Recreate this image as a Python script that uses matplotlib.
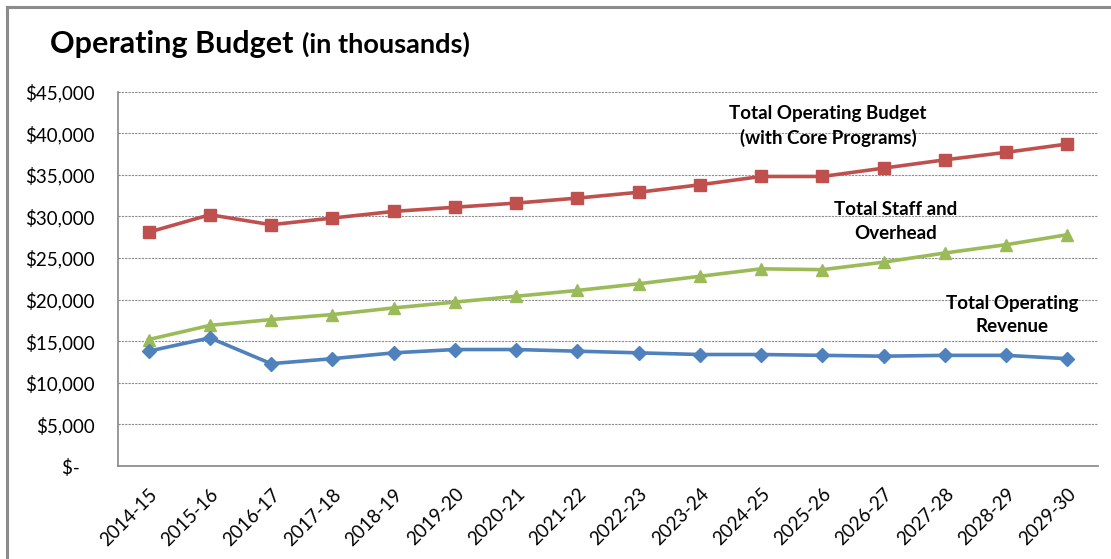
import numpy as np
import matplotlib
matplotlib.use('Agg')
from matplotlib import pyplot
from matplotlib.lines import Line2D
from matplotlib.ticker import FuncFormatter

## data (thousands of dollars)
years = ['2014-15', '2015-16', '2016-17', '2017-18', '2018-19', '2019-20', '2020-21', '2021-22',
         '2022-23', '2023-24', '2024-25', '2025-26', '2026-27', '2027-28', '2028-29', '2029-30']
total_budget = [28100, 30200, 29000, 29800, 30600, 31100, 31600, 32200,
                32900, 33800, 34800, 34800, 35800, 36800, 37700, 38700]
staff_overhead = [15200, 16900, 17600, 18200, 19000, 19700, 20400, 21100,
                  21900, 22800, 23700, 23600, 24500, 25600, 26600, 27800]
revenue = [13800, 15400, 12300, 12900, 13600, 14000, 14000, 13800,
           13600, 13400, 13400, 13300, 13200, 13300, 13300, 12900]
y_ticks = np.arange(0, 45001, 5000)

pyplot.rcParams['font.family'] = ['Lato', 'DejaVu Sans']
pyplot.rcParams['font.size'] = 13.5

fig = pyplot.figure(figsize=(11.11, 5.59), dpi=100)
ax = fig.add_axes([118 / 1111, 1 - 466 / 559, 980 / 1111, (466 - 91.6) / 559])

x = np.arange(len(years))
ax.plot(x, total_budget, color='#C0504D', lw=2.6, marker='s', ms=9, zorder=3)
ax.plot(x, staff_overhead, color='#9BBB59', lw=2.6, marker='^', ms=9, zorder=3)
ax.plot(x, revenue, color='#4F81BD', lw=2.6, marker='D', ms=7.5, zorder=3)

ax.set_xlim(-0.5, len(years) - 0.5)
ax.set_ylim(0, 45000)
ax.set_yticks(y_ticks)
ax.yaxis.set_major_formatter(FuncFormatter(lambda v, p: '$-   ' if v == 0 else '${:,.0f}'.format(v)))
ax.set_xticks(x)
ax.set_xticklabels(years, rotation=45, ha='right', rotation_mode='anchor')
ax.tick_params(axis='both', length=0, colors='black', labelsize=13.5)
ax.tick_params(axis='x', pad=14)
ax.tick_params(axis='y', pad=17)
ax.grid(axis='y', color='#8c8c8c', linestyle=(0, (2, 1)), lw=0.8)
ax.set_axisbelow(True)
for side in ['top', 'right']:
    ax.spines[side].set_visible(False)
for side in ['left', 'bottom']:
    ax.spines[side].set_color('#868686')
    ax.spines[side].set_linewidth(1.2)

# series labels, written straight on the chart
ax.text(11.09, 40900, 'Total Operating Budget\n(with Core Programs)', ha='center', va='center',
        fontsize=13.5, fontweight='bold', linespacing=1.45)
ax.text(12.2, 29400, 'Total Staff and\nOverhead', ha='center', va='center',
        fontsize=13.5, fontweight='bold', linespacing=1.45)
ax.text(14.1, 18150, 'Total Operating\nRevenue', ha='center', va='center',
        fontsize=13.5, fontweight='bold', linespacing=1.45)

# title: big part, then the smaller "(in thousands)" right after it
title = fig.text(50 / 1111, 1 - 53 / 559, 'Operating Budget', fontsize=22, fontweight='bold',
                 ha='left', va='baseline')
renderer = fig.canvas.get_renderer()
title_end = title.get_window_extent(renderer).x1
fig.text((title_end + 9) / 1111, 1 - 53 / 559, '(in thousands)', fontsize=19.5, fontweight='bold',
         ha='left', va='baseline')

# chart frame (only top and left edges show in the crop)
fig.add_artist(Line2D([7 / 1111, 7 / 1111], [0, 1 - 6.5 / 559], color='#8c8c8c', lw=2.2, transform=fig.transFigure))
fig.add_artist(Line2D([7 / 1111, 1], [1 - 6.5 / 559, 1 - 6.5 / 559], color='#8c8c8c', lw=2.2, transform=fig.transFigure))

fig.savefig('out.png', dpi=100)
